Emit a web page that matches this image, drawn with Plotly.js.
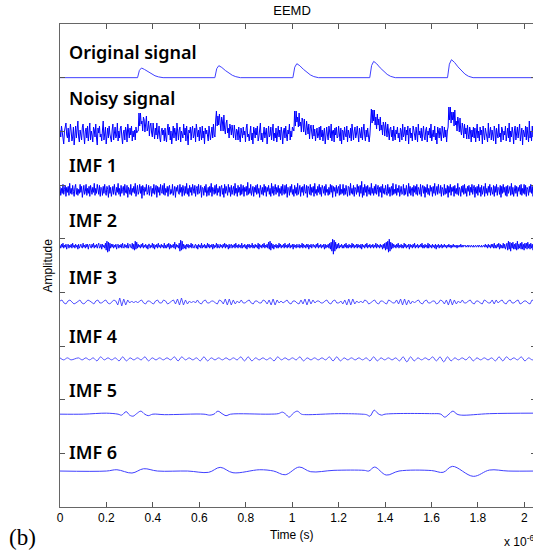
<!DOCTYPE html>
<html>
<head>
<meta charset="utf-8">
<script src="https://cdn.plot.ly/plotly-3.0.1.min.js"></script>
<style>
html,body{margin:0;padding:0;overflow:hidden;background:#fff;}
#plot{width:545px;height:551px;}
</style>
</head>
<body>
<div id="plot"></div>
<script>
// ---------------- DATA ----------------
// time axis in units of 1e-6 s; amplitudes (pixel-like units, up = positive)
const labels = ['Original signal','Noisy signal','IMF 1','IMF 2','IMF 3','IMF 4','IMF 5','IMF 6'];
const xTickVals = [0,0.2,0.4,0.6,0.8,1,1.2,1.4,1.6,1.8,2];
const xTickText = ['0','0.2','0.4','0.6','0.8','1','1.2','1.4','1.6','1.8','2'];

const origT = [0,
 0.334,0.342,0.351,0.364,0.379,0.394,0.409,0.424,0.444,
 0.667,0.675,0.684,0.697,0.712,0.727,0.742,0.757,0.777,
 1.003,1.011,1.020,1.033,1.048,1.063,1.078,1.093,1.113,
 1.334,1.342,1.351,1.364,1.379,1.394,1.409,1.424,1.444,
 1.669,1.677,1.686,1.699,1.714,1.729,1.744,1.759,1.779,
 2.05];
const origV = [0,
 0,7.3,9.7,8.2,5.8,3.7,1.9,0.8,0,
 0,9,12,10.2,7.2,4.6,2.4,1,0,
 0,10.5,14,11.9,8.4,5.3,2.8,1.1,0,
 0,12.2,16.3,13.9,9.8,6.2,3.3,1.3,0,
 0,13.5,18,15.3,10.8,6.8,3.6,1.4,0,
 0];

const noisyV = [
 4,-3,8,1,-6,-10,3,7,11,-1,-4,6,-8,0,10,3,-7,-3,7,-11,
 1,8,-4,6,13,-3,-8,4,0,-6,7,10,-1,-10,3,6,-4,8,-7,1,
 11,-6,3,-1,-8,7,4,-3,10,-4,-11,6,1,8,-3,0,-7,4,13,-6,
 -1,7,-10,3,6,-4,8,0,-3,-8,4,10,-6,1,7,-4,-1,11,-7,3,
 -4,6,8,-3,-10,1,4,-6,7,3,-8,10,0,-4,6,-1,8,-7,3,-3,
 4,-6,7,1,
 3,3,21,8,21,10,13,3,17,14,2,12,18,3,6,13,-2,8,11,1,-3,11,4,-5,6,-1,11,-5,1,8,-4,-8,3,6,-1,4,-7,
 6,-3,-8,4,10,-1,7,-6,3,-10,0,8,-4,6,1,-7,11,-3,-6,4,
 7,-8,3,0,-4,10,-1,6,-7,8,-3,-11,4,1,7,-6,3,8,-4,-1,
 6,-8,10,0,-3,4,-7,7,1,-6,8,-4,3,-10,6,0,4,-3,-7,8,
 3,-6,1,7,-4,10,-1,
 -3,14,23,8,18,9,20,11,3,17,13,3,19,5,0,11,14,1,6,-4,10,6,-1,9,1,-4,9,1,-6,5,3,-6,7,-3,-8,6,1,
 -4,7,-1,3,-8,6,10,-3,0,-7,4,8,-6,1,-10,7,3,-4,6,-1,
 8,-7,-3,4,11,-6,1,-8,3,7,-4,0,6,-10,4,8,-3,-1,7,-6,
 3,10,-7,1,-4,6,-8,0,8,-3,4,-6,7,1,-10,3,6,-4,8,-1,
 -7,4,0,10,-6,3,-3,7,
 4,3,23,8,23,12,17,7,21,8,12,2,16,13,2,15,4,-1,13,6,0,10,-5,6,9,1,-5,9,-2,5,-7,1,6,-4,-1,7,-6,
 8,-3,4,-7,1,6,-10,3,7,-1,-6,8,0,-4,10,-7,3,4,-8,6,
 -1,7,-4,-3,8,1,-7,6,-10,4,3,-6,7,0,-3,8,-8,4,1,-4,
 6,-7,10,-1,-6,3,7,-4,0,8,-3,-8,6,1,-4,7,-6,3,10,-1,
 -7,4,-3,6,1,-8,
 -1,17,25,11,24,13,24,9,17,5,20,9,15,3,17,4,9,-1,12,8,-2,12,1,-3,10,3,-6,5,7,-3,4,-7,8,-1,-6,4,0,
 7,-4,1,-8,6,3,-6,10,-3,0,7,-7,4,-1,8,-10,3,6,-4,1,
 -7,8,4,-3,-6,7,0,-8,10,-1,3,-4,6,-7,1,8,-3,-6,4,7,
 -8,3,-1,6,-4,10,-7,0,4,-3,8,-6,1,-10,7,3,-4,6,-1,-7,
 8,0,-4,7,-3,4,-8,
 3,7,27,14,27,11,22,14,22,8,24,9,13,3,17,12,2,16,3,-1,11,6,-4,10,0,6,-5,9,0,-5,7,3,-8,4,-3,7,-4,
 6,-8,1,10,-4,3,-7,7,-1,4,-10,8,0,-6,6,3,-3,-8,11,-4,
 1,7,-6,4,-1,-7,8,3,-10,6,0,-4,10,-3,1,-8,7,4,-6,3,
 -1,8,-7,0,6,-4,11,-8,3,-3,7,1,-10,4,8,-6,-1,7,-4,3,
 10,-7,0,6,-11,4,1,-3,8,-6,7,-1,-8,13,-4,3,-7,8,-3,4,
 -10,6,1];

const imf1V = [
 4,-5,2,-3,6,-4,1,5,-6,3,-2,4,-5,7,-3,2,-4,5,-1,-6,
 3,6,-4,2,-5,1,-3,6,-2,4,-7,3,5,-4,-1,6,-5,2,-3,4,
 -6,5,1,-4,3,-2,7,-5,2,-3,6,-1,-4,5,-6,3,2,-5,4,-3,
 6,-2,-5,4,1,-7,5,-3,3,-6,2,4,-4,6,-1,-5,3,-2,7,-4,
 2,-6,5,-3,1,4,-5,6,-2,-3,5,-7,3,1,-4,6,-5,2,-2,4,
 -3,7,-6,2,5,-4,-1,6,-3,4,-8,5,2,-5,3,-1,6,-4,-2,5,
 -5,3,4,-6,2,-3,6,-4,1,5,-7,4,-2,3,-5,6,-1,-3,5,-4,
 7,-5,2,-2,4,-6,3,5,-4,1,-3,6,-5,2,4,-7,3,-1,5,-3,
 -4,6,-2,3,-6,5,1,-5,4,-3,7,-4,2,-6,5,-2,3,-5,6,-1,
 -3,5,-6,2,4,-4,6,-3,-1,5,-7,3,2,-5,4,-2,6,-6,1,3,
 -5,4,-2,7,-6,3,1,-4,5,-3,6,-5,2,-2,4,-6,3,5,-4,2,
 -7,6,-3,4,-1,-5,6,-2,3,-6,5,-4,1,4,-5,7,-3,2,-6,5,
 -2,3,-5,6,-4,2,5,-6,3,-1,4,-5,8,-4,2,-3,6,-5,1,4,
 -6,3,-2,5,-4,6,-3,2,-7,5,1,-4,3,-5,6,-2,4,-6,3,-1,
 5,-4,2,-6,7,-3,4,-5,1,6,-4,3,-2,5,-6,2,-3,4,-5,6,
 -1,-4,5,-3,6,-7,3,2,-5,4,-2,6,-4,1,-6,5,-3,3,-5,7,
 -4,2,5,-6,3,-2,4,-5,6,-1,-3,5,-7,4,2,-4,6,-5,3,-2,
 4,-6,7,-3,1,-5,4,-2,6,-4,3,-6,5,2,-3,4,-5,6,-2,1,
 -5,3,-4,6,-2,5,-7,4,-1,3,-6,5,-3,2,4,-5,6,-4,1,-3,
 6,-5,2,-4,5,-1,-6,4,3,-5,7,-3,2,-4,5,-6,3,1,-4,6,
 -2,4,-6,5,-3,9,-7,3,-5,6,-2,4,-6,5,1,-4,3,-5,7,-3,
 2,-5,4,-3,6,-4,1,5,-6,3,-2,4,-7,6,-3,2,-4,5,-1,-5,
 6,-3,3,-6,2,4,-5,7,-4,1,-3,6,-5,2,-2,5,-6,3,4,-4,
 -3,6,-5,2,-4,5,-1,-6,7,-3,4,-5,2,3,-6,5,-2,4,-4,6,
 -5,3,1,-4,6,-6,2,5,-3,4,-7,3,-2,6,-4,2,-5,5,-1,3,
 -6,4,-3,7,-5,2,4,-4,6,-2,-3,5,-6,3,1,-5,6,-4,2,-3,
 5,-7,4,-2,6,-5,3,-1,4,-6,5,-3,2,-4,7,-5,3,1,-6,4,
 -2,5,-4,6,-3,2,-6,4,-1,5,-5,3,-2,6,-4,2,5,-7,3,-3,
 4,-5,6,-2,3,-6,5,-4,1,4,-6,7,-3,2,-5,4,-2,6,-5,3,
 -1,-4,5,-6,4,-2,6,-5,3,2,-4,5,-7,4,-3,6,-2,3,-5,4,
 -6,5,-3,2,4,-5,7,-4,3,-6,2,5,-3,4,-6,3,-1,5,-4,6,
 -5,2,-3,6,-4,5,-6,3,1,-5,4,-2,6,-3,4,-6,5,-2,3,-4];

const imf2V = [
 1,-2,2,-1,3,-2,1,-1,2,-3,1,2,-2,1,-1,2,-2,3,-1,1,
 -2,2,-1,1,-3,2,-2,1,2,-1,-2,3,-1,1,-2,2,-1,2,-3,1,
 2,-1,-2,2,-1,3,-2,1,-1,2,-2,1,3,-2,-1,2,-3,2,-1,1,
 -2,3,-4,5,-6,4,-5,3,-2,2,-1,2,-2,1,-1,2,-3,1,2,-2,
 1,-1,2,-2,3,-1,-2,2,-1,1,-2,3,-2,1,2,-1,-2,3,-3,2,
 -4,5,-3,4,-2,2,-1,1,-2,2,-1,3,-2,1,-1,2,-2,1,-3,2,
 2,-2,1,-1,3,-2,2,-3,1,-1,2,-2,3,-1,1,-2,2,-1,1,-2,
 3,-2,1,-2,2,-1,3,-3,2,-2,1,-1,2,-2,4,-3,2,-1,1,-2,
 3,-5,6,-4,5,-3,2,-2,1,-3,2,-1,2,-2,1,-1,3,-2,2,-1,
 -2,1,2,-2,1,-3,2,-1,1,-2,3,-2,1,-1,2,-2,1,-2,3,-1,
 2,-2,1,-1,2,-3,2,-2,1,-1,3,-2,2,-1,-2,2,-1,1,-2,2,
 -1,3,-2,2,-1,1,-3,2,-2,1,2,-2,1,-1,2,-2,3,-1,1,-2,
 2,-1,1,-2,3,-2,1,-1,2,-2,1,-3,2,-1,2,-2,1,-1,3,-2,
 1,-2,2,-1,1,-2,3,-3,2,-1,1,-2,2,-1,3,-2,1,-1,2,-2,
 4,-3,5,-4,3,-2,2,-3,1,-1,2,-2,1,-2,3,-1,2,-2,1,-1,
 2,-2,3,-1,1,-2,2,-1,3,-2,1,-1,2,-3,2,-1,1,-2,2,-1,
 -1,2,-2,1,-1,3,-2,2,-1,1,-2,2,-1,2,-3,1,-1,2,-2,1,
 2,-1,1,-2,2,-1,3,-2,1,-1,2,-2,1,-1,2,-3,2,-2,1,-1,
 2,-2,3,-3,4,-5,7,-8,6,-5,4,-3,2,-2,3,-2,1,-1,2,-2,
 1,-2,2,-1,3,-2,1,-2,2,-1,1,-2,3,-1,2,-2,1,-1,2,-2,
 2,-1,1,-2,2,-3,2,-1,1,-2,2,-1,3,-2,1,-1,2,-2,1,-1,
 2,-2,1,-1,3,-2,2,-1,1,-2,2,-1,1,-3,2,-2,3,-4,4,-3,
 5,-6,7,-5,4,-3,3,-2,2,-1,1,-2,2,-1,3,-2,1,-1,2,-2,
 1,-2,3,-1,2,-2,1,-1,2,-3,2,-1,1,-2,2,-1,3,-2,1,-1,
 2,-2,1,-1,2,-1,3,-2,1,-2,2,-1,1,-2,3,-2,2,-1,1,-2,
 2,-1,1,-2,2,-3,1,-1,2,-2,1,-1,2,-2,1,-1,2,-1,1,-2,
 1,-1,2,-1,1,-2,1,-1,2,-1,1,-1,1,-2,1,-1,1,-1,2,-1,
 1,-1,1,0,1,-1,0,1,-1,1,0,-1,1,0,-1,1,-1,0,1,-1,
 0,1,-1,1,0,-1,1,-1,0,1,-1,2,-1,1,-2,2,-1,1,-2,2,
 -1,2,-2,3,-2,1,-2,2,-1,3,-3,2,-2,1,-2,3,-2,2,-3,2,
 3,-4,5,-3,4,-5,3,-2,4,-3,2,-3,3,-4,5,-3,2,-2,3,-3,
 4,-3,2,-4,3,-2,3,-3,4,-2,2,-3,3,-2,2,-4,3,-2,3,-3];

const imf3V = [
 1,2,-1,-2,1,2,0,-2,-1,1,2,-1,-2,0,2,1,-1,-2,1,2,
 -1,-1,1,2,-1,-2,0,2,1,-3,4,-4,3,-3,2,-1,1,-1,1,-1,
 1,2,-1,-2,1,1,-1,-2,1,2,-1,-1,2,1,-2,-1,1,2,-2,3,
 -3,4,-3,2,-2,1,-1,1,-1,2,-1,-2,1,2,-1,-1,1,1,-1,-2,
 2,1,-2,3,-3,3,-3,2,-2,1,-1,2,-1,-1,1,2,-1,-2,1,1,
 -1,-1,2,1,-2,2,-3,3,-3,2,-1,1,-1,1,2,-1,-2,1,1,-1,
 -2,2,-2,3,-3,3,-2,2,-1,1,1,-1,-1,1,2,-1,-2,1,2,-1,
 -1,1,-2,2,-3,3,-3,3,-2,1,-1,1,-1,2,1,-2,-1,1,2,-1,
 -2,1,1,-1,-2,2,1,-1,-1,2,-2,3,-3,3,-3,2,-2,1,-1,1,
 2,-1,-2,1,2,-1,-1,1,1,-2,-1,2,1,-2,2,-3,3,-3,2,-2,
 1,-1,2,-1,-1,1,2,-1,-2,1,1,-1,-2,2,1,-1,-1,2,-2,2,
 -1,1,2,-1,-2,1,2,-1,-1,1,2,-2,-1,1,1,-1,-2,2,1,-1];

const imf4V = [
 1,-1,1,-1,0,1,-1,1,-1,1,-2,2,-1,1,-1,1,-2,2,-2,1,
 -1,1,-1,2,-2,1,-1,1,-1,1,-1,2,-2,2,-1,1,-1,1,-2,2,
 -2,1,-1,1,-1,1,-1,1,-1,2,-2,2,-2,1,-1,1,-1,1,-2,2,
 -1,1,-1,1,-1,2,-2,1,-1,1,-1,1,-1,2,-2,2,-2,1,-1,1,
 -1,1,-1,1,-2,2,-2,1,-1,1,-1,1,-2,2,-3,2,-2,1,-1,1,
 -1,2,-2,2,-3,2,-2,1,-1,1,-1,2,-2,1,-1,1,-1,1,-2,2,
 -2,2,-1,1,-1,2,-2,1,-1,1];

const imf5T = [0,0.1,0.2,0.25,0.265,0.285,0.3,0.315,0.33,0.348,0.365,0.38,0.4,0.45,0.62,0.645,0.663,0.68,0.698,0.715,0.735,
 0.9,0.94,0.958,0.972,0.987,1.005,1.022,1.04,1.06,1.2,1.3,1.32,1.335,1.353,1.37,1.385,1.4,1.6,1.64,1.657,1.675,1.692,1.71,1.73,1.85,2.05];
const imf5V = [0,0,1,0,-1,2.5,-1,-2,0.5,3,0,-1.5,0,-0.5,0,-1,0,3,0.5,-1.5,0,
 0,0.5,2,0,-3,1,3,0,-0.5,0.5,0,-0.5,-2,4,0.5,-1,0,0.5,0,-3,0,3,0,-1,0.5,1];

const imf6T = [0,0.2,0.245,0.31,0.36,0.42,0.55,0.64,0.69,0.745,0.86,0.92,0.97,1.03,1.08,1.18,1.31,1.33,1.355,1.405,1.46,1.6,1.65,1.69,1.78,1.85,1.93,2.05];
const imf6V = [0,0,1.3,-2,2.3,0,0,-1.3,3.7,-1.7,1.3,0,-3.7,4,-0.7,0.7,0.7,0,4,-4,0,0.5,-1.3,4.7,-5.3,1,0,0];

// ---------------- LAYOUT CONFIG ----------------
const T_END = 2.05;
const PX = 1/53.7;                 // picture-pixel to axis-unit conversion
const offsets = [8.0, 6.95, 5.9, 4.86, 3.82, 2.76, 1.73, 0.67];
const labelY = [52, 98, 165, 220, 277, 336, 390, 452];   // pixel rows of the labels
const plotTop = 24, plotBottom = 507.3, plotLeft = 60, plotRight = 536.4;

function grid(n){ const a=[]; for(let i=0;i<n;i++) a.push(i*T_END/(n-1)); return a; }
function shift(vals, k){ return vals.map(v => offsets[k] + v*PX); }

const BLUE = '#0000ff', LIGHT = '#4040ff';
const series = [
  {x: origT, y: shift(origV,0), w:1, c:LIGHT, s:'linear'},
  {x: grid(noisyV.length), y: shift(noisyV,1), w:1, c:BLUE, s:'linear'},
  {x: grid(imf1V.length), y: shift(imf1V,2), w:1, c:BLUE, s:'linear'},
  {x: grid(imf2V.length), y: shift(imf2V,3), w:0.9, c:BLUE, s:'linear'},
  {x: grid(imf3V.length), y: shift(imf3V,4), w:0.9, c:LIGHT, s:'linear'},
  {x: grid(imf4V.length), y: shift(imf4V,5), w:0.9, c:LIGHT, s:'spline'},
  {x: imf5T, y: shift(imf5V,6), w:1, c:LIGHT, s:'spline'},
  {x: imf6T, y: shift(imf6V,7), w:1, c:LIGHT, s:'spline'}
];
const traces = series.map((s,i) => ({
  type:'scatter', mode:'lines', x:s.x, y:s.y, name: labels[i],
  line:{color:s.c, width:s.w, shape:s.s}, hoverinfo:'skip', showlegend:false
}));

const H = plotBottom - plotTop, W = plotRight - plotLeft;
const py = p => (plotBottom - p)/H;
const pxp = p => (p - plotLeft)/W;

const annotations = labels.map((t,i) => ({
  text: t, xref:'paper', yref:'paper', x: pxp(67), y: py(labelY[i]),
  xanchor:'left', yanchor:'middle', showarrow:false,
  font:{family:'Noto Sans', size:18, weight:600, color:'#000'}
}));
annotations.push(
  {text:'Time (s)', xref:'paper', yref:'paper', x:pxp(292), y:py(535), xanchor:'center', yanchor:'middle', showarrow:false,
   font:{family:'Liberation Sans, Arial', size:12, color:'#000'}},
  {text:'x 10<sup>-6</sup>', xref:'paper', yref:'paper', x:pxp(502), y:py(541), xanchor:'left', yanchor:'middle', showarrow:false,
   font:{family:'Liberation Sans, Arial', size:12, color:'#000'}},
  {text:'(b)', xref:'paper', yref:'paper', x:pxp(7), y:py(538), xanchor:'left', yanchor:'middle', showarrow:false,
   font:{family:'Liberation Serif, Times New Roman', size:23, color:'#000'}},
  {text:'Amplitude', xref:'paper', yref:'paper', x:pxp(47), y:0.5, xanchor:'center', yanchor:'middle', textangle:-90, showarrow:false,
   font:{family:'Liberation Sans, Arial', size:12, color:'#000'}}
);

const layout = {
  width:545, height:551,
  margin:{l:plotLeft, r:545-plotRight, t:plotTop, b:551-plotBottom, pad:0},
  paper_bgcolor:'#fff', plot_bgcolor:'#fff',
  title:{text:'EEMD', xref:'container', yref:'container', x:292/545, y:1-10/551, xanchor:'center', yanchor:'middle',
         font:{family:'Liberation Sans, Arial', size:13, color:'#000'}},
  xaxis:{range:[0,T_END], tickvals:xTickVals, ticktext:xTickText, ticks:'inside', ticklen:5, tickcolor:'#555',
         showline:true, linecolor:'#666', linewidth:1, mirror:'ticks', showgrid:false, zeroline:false,
         tickfont:{family:'Liberation Sans, Arial', size:12, color:'#000'}},
  yaxis:{range:[0,9], tickvals:[1,2,3,4,5,6,7,8], showticklabels:false, ticks:'inside', ticklen:5, tickcolor:'#555',
         showline:true, linecolor:'#666', linewidth:1, mirror:'ticks', showgrid:false, zeroline:false},
  annotations: annotations
};

Plotly.newPlot('plot', traces, layout, {staticPlot:true, displayModeBar:false});
</script>
</body>
</html>
